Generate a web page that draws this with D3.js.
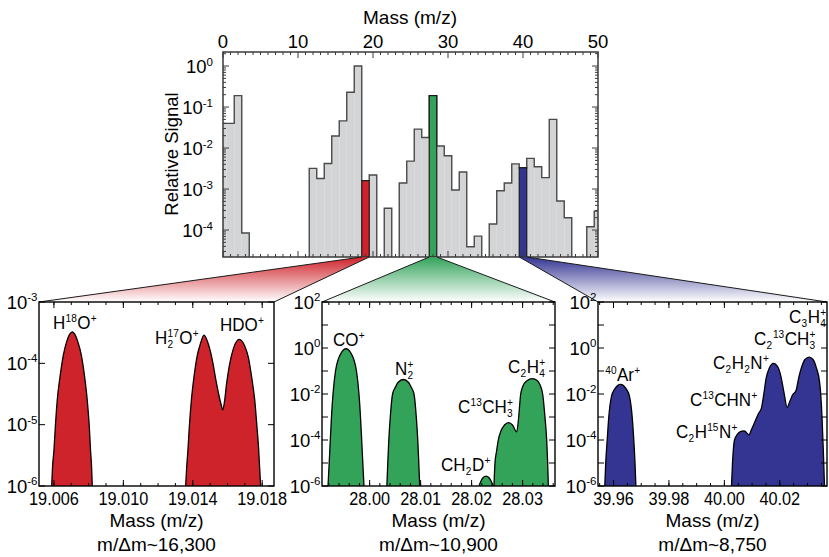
<!DOCTYPE html>
<html>
<head>
<meta charset="utf-8">
<script src="https://cdn.jsdelivr.net/npm/d3@7"></script>
<style>
  body { margin: 0; background: #fff; }
  svg { display: block; font-family: "Liberation Sans", Arial, Helvetica, sans-serif; fill: #000; }
</style>
</head>
<body>
<svg id="chart" width="829" height="557"></svg>
<script>
// ---------------- unit-mass survey spectrum ----------------
const unitMass = [0, 1, 2, 3, 12, 13, 14, 15, 16, 17, 18, 19, 20, 22, 24, 25, 26, 27, 28, 29, 30, 31, 32, 33, 34,
                  36, 37, 38, 39, 40, 41, 42, 43, 44, 45, 46, 49, 50];
const unitSignal = [0.04, 0.04, 0.19, 8.5e-5, 3.2e-3, 1.8e-3, 4.2e-3, 0.0196, 0.046, 0.23, 1.0, 1.6e-3, 2.2e-3,
                    3.4e-4, 1.4e-3, 4.8e-3, 0.029, 0.018, 0.19, 0.0112, 6.5e-3, 9.5e-4, 2.6e-3, 3.9e-5, 7.1e-5,
                    1.4e-4, 9.1e-4, 1.4e-3, 4.1e-3, 3.3e-3, 5.6e-3, 3.5e-3, 1.9e-3, 0.05, 5.1e-4, 2.0e-4,
                    1.2e-4, 2.9e-4];
const surveyTicks = [0, 10, 20, 30, 40, 50];
const surveyExponents = [0, -1, -2, -3, -4];

// ---------------- high-resolution windows ----------------
// m/z 19
const h18oPeak = [[19.00587,1e-6],[19.00592,2.04e-6],[19.00600,3.8e-6],[19.00608,9.1e-6],[19.00619,2.5e-5],
  [19.00635,6.0e-5],[19.00654,1.35e-4],[19.00673,2.24e-4],[19.00706,3.24e-4],[19.00738,2.24e-4],
  [19.00758,1.35e-4],[19.00777,6.0e-5],[19.00792,2.5e-5],[19.00804,9.1e-6],[19.00811,3.8e-6],
  [19.00817,2.04e-6],[19.00821,1e-6]];
const h217oHdoPeaks = [[19.01359,1e-6],[19.01365,2.04e-6],[19.01372,3.8e-6],[19.01380,9.1e-6],[19.01392,2.51e-5],
  [19.01407,6.0e-5],[19.01426,1.35e-4],[19.01441,1.95e-4],[19.01465,2.88e-4],[19.01489,2.09e-4],
  [19.01513,1.12e-4],[19.01534,5.2e-5],[19.01553,2.8e-5],[19.01564,2.09e-5],[19.01572,1.74e-5],
  [19.01582,2.29e-5],[19.01595,4.7e-5],[19.01611,9.3e-5],[19.01634,1.74e-4],[19.01668,2.45e-4],
  [19.01701,1.86e-4],[19.01720,1.26e-4],[19.01739,6.0e-5],[19.01757,2.51e-5],[19.01770,9.1e-6],
  [19.01780,3.8e-6],[19.01785,2.04e-6],[19.01791,1e-6]];
const waterTicks = [19.006, 19.010, 19.014, 19.018];
const waterTickLabels = ["19.006", "19.010", "19.014", "19.018"];
const waterExponents = [-3, -4, -5, -6];

// m/z 28
const coPeak = [[27.99184,1e-6],[27.99207,1e-5],[27.99229,1e-4],[27.99252,1e-3],[27.99282,1e-2],[27.99331,0.1],
  [27.99384,0.32],[27.99438,0.59],[27.99537,0.93],[27.99635,0.59],[27.99689,0.32],[27.99742,0.1],
  [27.99791,1e-2],[27.99821,1e-3],[27.99844,1e-4],[27.99866,1e-5],[27.99889,1e-6]];
const n2Peak = [[28.00338,1e-6],[28.00356,1e-5],[28.00376,1e-4],[28.00405,1e-3],[28.00450,1e-2],[28.00507,0.02],
  [28.00556,0.0316],[28.00660,0.0427],[28.00764,0.0316],[28.00813,0.02],[28.00870,1e-2],[28.00915,1e-3],
  [28.00944,1e-4],[28.00964,1e-5],[28.00982,1e-6]];
const ch2dPeak = [[28.02144,1e-6],[28.02180,1.58e-6],[28.02223,2.29e-6],[28.02282,2.69e-6],[28.02340,2.29e-6],
  [28.02386,1.58e-6],[28.02425,1e-6]];
const c2h4Peaks = [[28.02438,1e-6],[28.02458,1e-5],[28.02488,3.16e-5],[28.02523,1e-4],[28.02576,2.51e-4],
  [28.02644,4.47e-4],[28.02727,5.75e-4],[28.02801,4.47e-4],[28.02884,2.24e-4],[28.02923,1e-3],
  [28.02962,1e-2],[28.03007,0.0224],[28.03086,0.038],[28.03189,0.0468],[28.03291,0.038],[28.03340,0.0251],
  [28.03393,1e-2],[28.03438,1e-3],[28.03472,1e-4],[28.03491,1e-5],[28.03505,1e-6]];
const m28Ticks = [28.00, 28.01, 28.02, 28.03];
const m28TickLabels = ["28.00", "28.01", "28.02", "28.03"];

// m/z 40
const arPeak = [[39.95686,1e-6],[39.95719,1e-5],[39.95773,1e-4],[39.95830,1e-3],[39.95928,7.94e-3],
  [39.96036,0.0158],[39.96253,0.0263],[39.96469,0.0158],[39.96577,7.94e-3],[39.96675,1e-3],
  [39.96732,1e-4],[39.96776,1e-5],[39.96808,1e-6]];
const m40Peaks = [[40.00257,1e-6],[40.00293,1e-5],[40.00365,1e-4],[40.00473,1.78e-4],[40.00600,2.4e-4],
  [40.00708,2.51e-4],[40.00798,2.09e-4],[40.00881,1.66e-4],[40.00978,2.82e-4],[40.01087,5.6e-4],
  [40.01231,1.41e-3],[40.01339,2.5e-3],[40.01422,0.01],[40.01509,0.05],[40.01610,0.126],[40.01772,0.214],
  [40.01916,0.158],[40.02043,0.056],[40.02144,0.0126],[40.02266,2.63e-3],[40.02367,5.0e-3],
  [40.02457,8.9e-3],[40.02584,0.0141],[40.02681,0.05],[40.02782,0.141],[40.02908,0.316],[40.03060,0.398],
  [40.03197,0.316],[40.03316,0.141],[40.03442,0.0282],[40.03522,1e-3],[40.03569,3.55e-5],[40.03612,1e-6]];
const m40Ticks = [39.96, 39.98, 40.00, 40.02];
const m40TickLabels = ["39.96", "39.98", "40.00", "40.02"];
const wideExponents = [2, 0, -2, -4, -6];

const highlightColors = { 19: "#cf232b", 28: "#33a35a", 40: "#343592" };

// ---------------- drawing ----------------
const svg = d3.select("#chart");
const defs = svg.append("defs");

function powerLabel(g, x, y, exp) {
  const t = g.append("text").attr("x", x).attr("y", y).attr("text-anchor", "end").style("font-size", "18.5px");
  t.append("tspan").text("10");
  t.append("tspan").attr("dy", -7.5).style("font-size", "11.5px").text(exp);
}

// ion label with stacked sub/superscripts, slightly condensed horizontally
function chemLabel(g, x, y, tokens) {
  const big = 18.5, small = 11;
  const lg = g.append("g").attr("transform", `translate(${x},${y}) scale(0.92,1)`);
  let cx = 0;
  const put = (tx, ty, s, size) =>
    lg.append("text").attr("x", tx).attr("y", ty).style("font-size", size + "px").text(s);
  tokens.forEach(tok => {
    if (typeof tok === "string") {
      cx += put(cx, 0, tok, big).node().getComputedTextLength();
    } else {
      let w = 0;
      if (tok.sub) w = Math.max(w, put(cx + 0.3, 4, tok.sub, small).node().getComputedTextLength());
      if (tok.sup) w = Math.max(w, put(cx + 0.3, -7, tok.sup, small).node().getComputedTextLength());
      cx += w + 0.8;
    }
  });
}

// ----- survey panel -----
const survey = { left: 223, right: 598, top: 52, bottom: 257 };
const xs = d3.scaleLinear().domain([0, 50]).range([survey.left, survey.right]);
const ys = d3.scaleLog().domain([2.2e-5, 2.2]).range([survey.bottom, survey.top]);

defs.append("clipPath").attr("id", "clip-survey").append("rect")
  .attr("x", survey.left).attr("y", survey.top)
  .attr("width", survey.right - survey.left).attr("height", survey.bottom - survey.top);

const gs = svg.append("g");
const bars = unitMass.map((m, i) => ({ m, v: unitSignal[i] }));
const barLayer = gs.append("g").attr("clip-path", "url(#clip-survey)");

barLayer.selectAll("rect.gray").data(bars).join("rect")
  .attr("x", d => xs(d.m - 0.5)).attr("width", d => xs(d.m + 0.5) - xs(d.m - 0.5))
  .attr("y", d => ys(d.v)).attr("height", d => survey.bottom - ys(d.v))
  .attr("fill", "#d3d4d6");

// step outline of each contiguous run of unit masses
const runs = [];
bars.forEach(d => {
  const last = runs[runs.length - 1];
  if (last && d.m - last[last.length - 1].m === 1) last.push(d); else runs.push([d]);
});
runs.forEach(run => {
  const pts = [[xs(run[0].m - 0.5), survey.bottom]];
  run.forEach(d => { pts.push([xs(d.m - 0.5), ys(d.v)]); pts.push([xs(d.m + 0.5), ys(d.v)]); });
  pts.push([xs(run[run.length - 1].m + 0.5), survey.bottom]);
  barLayer.append("path").attr("d", d3.line()(pts))
    .attr("fill", "none").attr("stroke", "#4a4a4a").attr("stroke-width", 1.4);
});

barLayer.selectAll("rect.hi").data(bars.filter(d => highlightColors[d.m])).join("rect")
  .attr("x", d => xs(d.m - 0.5)).attr("width", d => xs(d.m + 0.5) - xs(d.m - 0.5))
  .attr("y", d => ys(d.v)).attr("height", d => survey.bottom - ys(d.v))
  .attr("fill", d => highlightColors[d.m]).attr("stroke", "#1a1a1a").attr("stroke-width", 1.2);

// survey frame and ticks
const axisColor = "#3a3a3a";
const sTicks = gs.append("g").attr("stroke", axisColor).attr("stroke-width", 1);
d3.range(0, 51, 1).forEach(v => {
  const len = v % 10 === 0 ? 6 : 3;
  const x = xs(v);
  sTicks.append("line").attr("x1", x).attr("x2", x).attr("y1", survey.top).attr("y2", survey.top + len);
  sTicks.append("line").attr("x1", x).attr("x2", x).attr("y1", survey.bottom).attr("y2", survey.bottom - len);
});
ys.ticks().forEach(v => {
  const major = Math.abs(Math.log10(v) - Math.round(Math.log10(v))) < 1e-9;
  const len = major ? 6 : 3;
  const y = ys(v);
  sTicks.append("line").attr("x1", survey.left).attr("x2", survey.left + len).attr("y1", y).attr("y2", y);
  sTicks.append("line").attr("x1", survey.right).attr("x2", survey.right - len).attr("y1", y).attr("y2", y);
});
gs.append("rect").attr("x", survey.left).attr("y", survey.top)
  .attr("width", survey.right - survey.left).attr("height", survey.bottom - survey.top)
  .attr("fill", "none").attr("stroke", axisColor).attr("stroke-width", 1.5);

surveyTicks.forEach(v => {
  gs.append("text").attr("x", xs(v)).attr("y", 47.5).attr("text-anchor", "middle")
    .style("font-size", "18.5px").text(v);
});
surveyExponents.forEach(e => powerLabel(gs, survey.left - 10, ys(Math.pow(10, e)) + 7, e));
gs.append("text").attr("x", 410).attr("y", 24).attr("text-anchor", "middle")
  .style("font-size", "19px").text("Mass (m/z)");
gs.append("text").attr("transform", `translate(178,154) rotate(-90)`).attr("text-anchor", "middle")
  .style("font-size", "18.5px").text("Relative Signal");

// ----- zoom panels -----
const panelTop = 302, panelBottom = 486;
const panels = [
  { id: "w", mass: 19, x0: 39, x1: 274, domain: [19.00514, 19.01868], yDomain: [1e-6, 1e-3],
    peaks: [h18oPeak, h217oHdoPeaks], ticks: waterTicks, tickLabels: waterTickLabels, minor: 0.001,
    exps: waterExponents, res: "m/\u0394m~16,300",
    labels: [
      { x: 53, y: 329, t: ["H", { sup: "18" }, "O", { sup: "+" }] },
      { x: 155, y: 344, t: ["H", { sub: "2", sup: "17" }, "O", { sup: "+" }] },
      { x: 220, y: 331, t: ["HDO", { sup: "+" }] }
    ] },
  { id: "c", mass: 28, x0: 322, x1: 555, domain: [27.99066, 28.03635], yDomain: [1e-6, 1e2],
    peaks: [coPeak, n2Peak, ch2dPeak, c2h4Peaks], ticks: m28Ticks, tickLabels: m28TickLabels, minor: 0.002,
    exps: wideExponents, res: "m/\u0394m~10,900",
    labels: [
      { x: 333, y: 346, t: ["CO", { sup: "+" }] },
      { x: 395, y: 375, t: ["N", { sub: "2", sup: "+" }] },
      { x: 458, y: 413, t: ["C", { sup: "13" }, "CH", { sub: "3", sup: "+" }] },
      { x: 508, y: 373, t: ["C", { sub: "2" }, "H", { sub: "4", sup: "+" }] },
      { x: 441, y: 471, t: ["CH", { sub: "2" }, "D", { sup: "+" }] }
    ] },
  { id: "a", mass: 40, x0: 598, x1: 827, domain: [39.95441, 40.03702], yDomain: [1e-6, 1e2],
    peaks: [arPeak, m40Peaks], ticks: m40Ticks, tickLabels: m40TickLabels, minor: 0.005,
    exps: wideExponents, res: "m/\u0394m~8,750",
    labels: [
      { x: 605, y: 381, t: [{ sup: "40" }, "Ar", { sup: "+" }] },
      { x: 676, y: 438, t: ["C", { sub: "2" }, "H", { sup: "15" }, "N", { sup: "+" }] },
      { x: 690, y: 406, t: ["C", { sup: "13" }, "CHN", { sup: "+" }] },
      { x: 713, y: 369, t: ["C", { sub: "2" }, "H", { sub: "2" }, "N", { sup: "+" }] },
      { x: 754, y: 345, t: ["C", { sub: "2" }, { sup: "13" }, "CH", { sub: "3", sup: "+" }] },
      { x: 789, y: 323, t: ["C", { sub: "3" }, "H", { sub: "4", sup: "+" }] }
    ] }
];

panels.forEach(p => {
  const color = highlightColors[p.mass];
  const x = d3.scaleLinear().domain(p.domain).range([p.x0, p.x1]);
  const y = d3.scaleLog().domain(p.yDomain).range([panelBottom, panelTop]);
  const g = svg.append("g");

  // wedge linking the survey bar to this window
  const grad = defs.append("linearGradient").attr("id", "fade-" + p.id)
    .attr("gradientUnits", "userSpaceOnUse").attr("x1", 0).attr("x2", 0)
    .attr("y1", survey.bottom).attr("y2", panelTop);
  grad.append("stop").attr("offset", "0%").attr("stop-color", color);
  grad.append("stop").attr("offset", "100%").attr("stop-color", "#ffffff");
  const bl = xs(p.mass - 0.5), br = xs(p.mass + 0.5);
  g.append("path")
    .attr("d", d3.line()([[bl, survey.bottom], [br, survey.bottom], [p.x1, panelTop], [p.x0, panelTop]]) + "Z")
    .attr("fill", `url(#fade-${p.id})`);
  g.append("path").attr("d", d3.line()([[p.x0, panelTop], [bl, survey.bottom]]))
    .attr("stroke", "#1a1a1a").attr("stroke-width", 1);
  g.append("path").attr("d", d3.line()([[p.x1, panelTop], [br, survey.bottom]]))
    .attr("stroke", "#1a1a1a").attr("stroke-width", 1);

  // white panel background
  g.append("rect").attr("x", p.x0).attr("y", panelTop).attr("width", p.x1 - p.x0)
    .attr("height", panelBottom - panelTop).attr("fill", "#fff");

  defs.append("clipPath").attr("id", "clip-" + p.id).append("rect")
    .attr("x", p.x0).attr("y", panelTop).attr("width", p.x1 - p.x0).attr("height", panelBottom - panelTop);
  const plot = g.append("g").attr("clip-path", `url(#clip-${p.id})`);

  const area = d3.area().x(d => x(d[0])).y0(panelBottom).y1(d => y(d[1])).curve(d3.curveMonotoneX);
  const line = d3.line().x(d => x(d[0])).y(d => y(d[1])).curve(d3.curveMonotoneX);
  p.peaks.forEach(pk => {
    plot.append("path").attr("d", area(pk)).attr("fill", color);
    plot.append("path").attr("d", line(pk)).attr("fill", "none").attr("stroke", "#000").attr("stroke-width", 1.3);
  });

  // ticks
  const tg = g.append("g").attr("stroke", "#000").attr("stroke-width", 1);
  const nMinor = Math.round((p.domain[1] - p.domain[0]) / p.minor) + 2;
  const start = Math.ceil(p.domain[0] / p.minor - 1e-6);
  for (let k = 0; k < nMinor; k++) {
    const v = (start + k) * p.minor;
    if (v > p.domain[1]) break;
    const px = x(v);
    tg.append("line").attr("x1", px).attr("x2", px).attr("y1", panelBottom).attr("y2", panelBottom - 3);
    tg.append("line").attr("x1", px).attr("x2", px).attr("y1", panelTop).attr("y2", panelTop + 3);
  }
  p.ticks.forEach(v => {
    const px = x(v);
    tg.append("line").attr("x1", px).attr("x2", px).attr("y1", panelBottom).attr("y2", panelBottom - 6);
    tg.append("line").attr("x1", px).attr("x2", px).attr("y1", panelTop).attr("y2", panelTop + 6);
  });
  const lo = Math.round(Math.log10(p.yDomain[0])), hi = Math.round(Math.log10(p.yDomain[1]));
  for (let e = lo; e <= hi; e++) {
    const py = y(Math.pow(10, e));
    tg.append("line").attr("x1", p.x0).attr("x2", p.x0 + 6).attr("y1", py).attr("y2", py);
    tg.append("line").attr("x1", p.x1).attr("x2", p.x1 - 6).attr("y1", py).attr("y2", py);
  }

  g.append("rect").attr("x", p.x0).attr("y", panelTop).attr("width", p.x1 - p.x0)
    .attr("height", panelBottom - panelTop).attr("fill", "none").attr("stroke", "#000").attr("stroke-width", 1.4);

  // labels
  p.ticks.forEach((v, i) => {
    g.append("text").attr("transform", `translate(${x(v)},505) scale(0.88,1)`).attr("text-anchor", "middle")
      .style("font-size", "18.5px").text(p.tickLabels[i]);
  });
  p.exps.forEach(e => powerLabel(g, p.x0 - 1.5, y(Math.pow(10, e)) + 6.5, e));
  const cx = (p.x0 + p.x1) / 2;
  g.append("text").attr("x", cx).attr("y", 527).attr("text-anchor", "middle")
    .style("font-size", "19px").text("Mass (m/z)");
  g.append("text").attr("x", cx).attr("y", 551).attr("text-anchor", "middle")
    .style("font-size", "19px").text(p.res);

  p.labels.forEach(l => chemLabel(g, l.x, l.y, l.t));
});
</script>
</body>
</html>
